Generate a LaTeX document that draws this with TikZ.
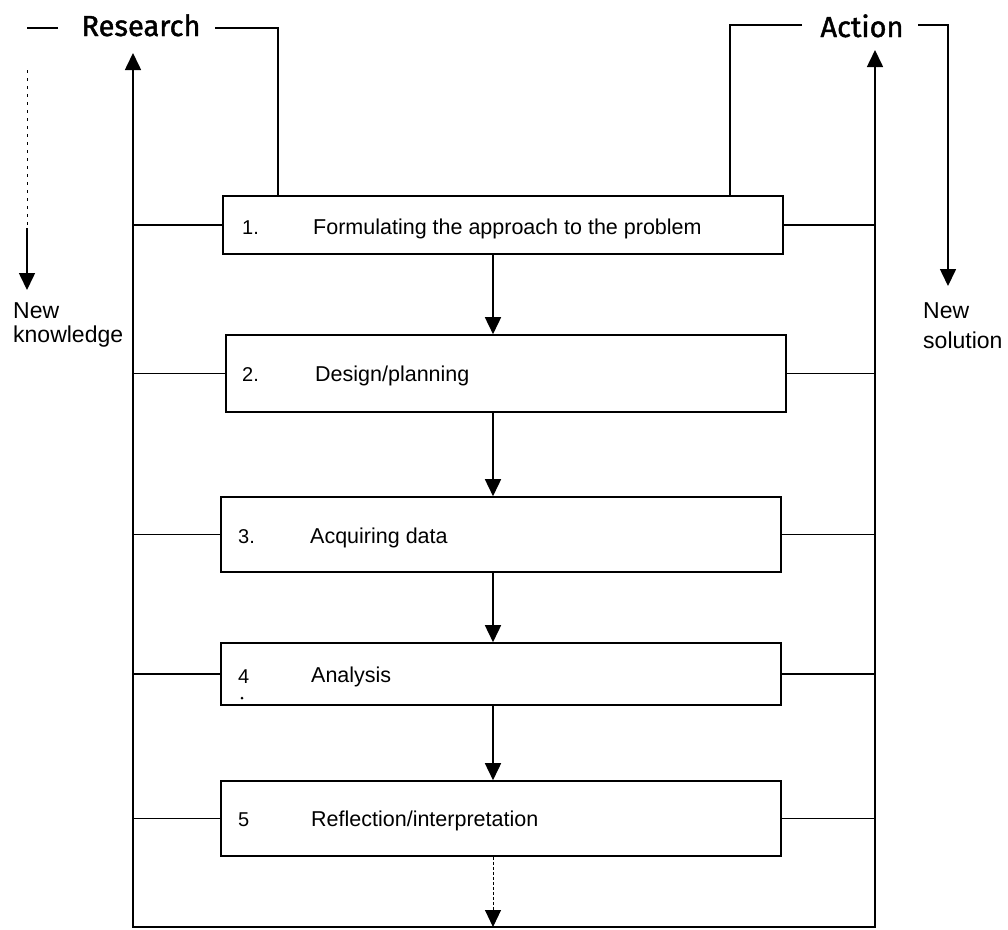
\documentclass[tikz,border=0pt]{standalone}
\usepackage{fontspec}
\setmainfont{Liberation Sans}
\newfontfamily\headfont[FakeBold=1.5]{Fira Sans}
\usetikzlibrary{arrows.meta}
\begin{document}
\begin{tikzpicture}[x=1pt,y=-1pt,
  line/.style={line width=1.6pt},
  thinline/.style={line width=1.3pt},
  arr/.style={line width=1.6pt,-{Triangle[width=16pt,length=17pt]}},
  stepbox/.style={draw,line width=1.6pt,minimum width=560pt,inner sep=0pt},
  num/.style={anchor=base west,font=\fontsize{20}{24}\selectfont,inner sep=0pt},
  lab/.style={anchor=base west,font=\fontsize{21.5}{25}\selectfont,inner sep=0pt},
  head/.style={anchor=base,font=\headfont\fontsize{29}{34}\selectfont,inner sep=0pt},
  side/.style={anchor=base west,font=\fontsize{23}{26}\selectfont,inner sep=0pt}]
\useasboundingbox (0,0) rectangle (1008,929);

% boxes
\node[stepbox,minimum height=58pt] (b1) at (503,225) {};
\node[stepbox,minimum height=77pt] (b2) at (506,373.5) {};
\node[stepbox,minimum height=75pt] (b3) at (501,534.5) {};
\node[stepbox,minimum height=62pt] (b4) at (501,674) {};
\node[stepbox,minimum height=75pt] (b5) at (501,818.5) {};

% box texts
\node[num] (n1) at (242,234) {1.};
\node[lab] (t1) at (313,234) {Formulating the approach to the problem};
\node[num] (n2) at (242,381) {2.};
\node[lab] (t2) at (315,381) {Design/planning};
\node[num] (n3) at (238,543) {3.};
\node[lab] (t3) at (310,543) {Acquiring data};
\node[num] (n4) at (238,683) {4};
\node[circle,fill,inner sep=0pt,minimum size=3pt] (d4) at (242,698) {};
\node[lab] (t4) at (311,682) {Analysis};
\node[num] (n5) at (238,826) {5};
\node[lab] (t5) at (311,826) {Reflection/interpretation};

% rails
\coordinate (Ltop) at (133,53);
\coordinate (Lbot) at (133,927);
\coordinate (Rtop) at (875,50);
\coordinate (Rbot) at (875,927);
\draw[line width=1.6pt,line join=miter,{Triangle[width=16pt,length=17pt]}-{Triangle[width=16pt,length=17pt]}]
  (Ltop) -- (Lbot) -- (Rbot) -- (Rtop);

% side connectors
\foreach \b in {b1,b2,b3,b4,b5}{
  \draw[line] (\b.west) -- (\b.west -| Lbot);
  \draw[line] (\b.east) -- (\b.east -| Rbot);
}

% flow arrows
\coordinate (ax) at (493,0);
\draw[arr] (b1.south -| ax) -- (b2.north -| ax);
\draw[arr] (b2.south -| ax) -- (b3.north -| ax);
\draw[arr] (b3.south -| ax) -- (b4.north -| ax);
\draw[arr] (b4.south -| ax) -- (b5.north -| ax);
\draw[line width=1pt,dash pattern=on 3pt off 2pt,-{Triangle[width=16pt,length=17pt]}] (b5.south -| ax) -- (ax |- Lbot);

% Research
\node[head] (res) at (141,36) {Research};
\coordinate (RL1) at (58,28);
\coordinate (RL2) at (27,28);
\coordinate (RL3) at (27,70);
\coordinate (RL4) at (27,228);
\coordinate (RL5) at (27,290);
\coordinate (RR1) at (215,28);
\coordinate (RR2) at (278,28);
\draw[line] (RL1) -- (RL2);
\draw[line width=1pt,dash pattern=on 3pt off 5pt] (RL3) -- (RL4);
\draw[arr] (RL4) -- (RL5);
\draw[thinline] (RR1) -- (RR2) -- (RR2 |- b1.north);
\node[side] (nk1) at (13,318) {New};
\node[side] (nk2) at (13,342) {knowledge};

% Action
\node[head] (act) at (862,37) {Action};
\coordinate (AL1) at (802,25);
\coordinate (AL2) at (730,25);
\coordinate (AR1) at (918,25);
\coordinate (AR2) at (948,25);
\coordinate (AR3) at (948,286);
\draw[thinline] (AL1) -- (AL2) -- (AL2 |- b1.north);
\draw[line width=1.6pt,-{Triangle[width=16pt,length=17pt]}] (AR1) -- (AR2) -- (AR3);
\node[side] (ns1) at (923,318) {New};
\node[side] (ns2) at (923,348) {solution};
\end{tikzpicture}
\end{document}
